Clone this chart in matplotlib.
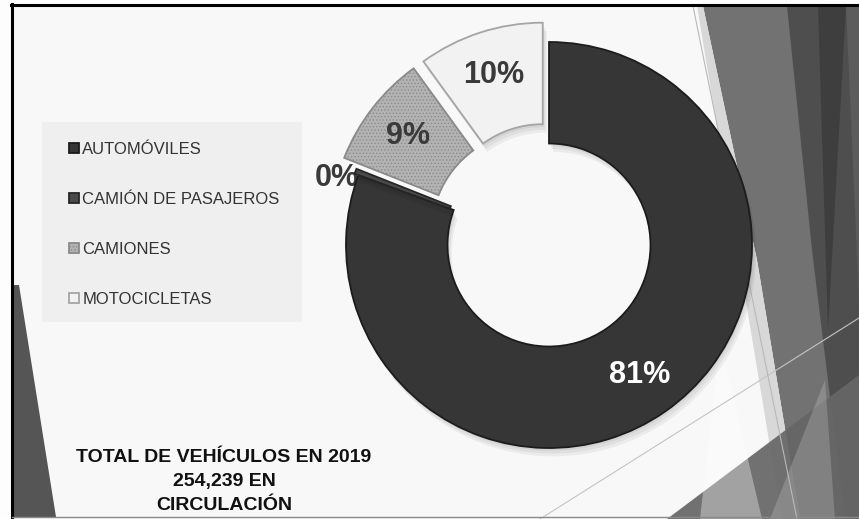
import matplotlib.pyplot as plt
import matplotlib.patheffects as pe
from matplotlib.patches import Polygon, Rectangle
from matplotlib.lines import Line2D

# datos
categorias = ['AUTOMÓVILES', 'CAMIÓN DE PASAJEROS', 'CAMIONES', 'MOTOCICLETAS']
porcentajes = [80.6, 0.4, 9.0, 10.0]
titulo = ['TOTAL DE VEHÍCULOS EN 2019', '254,239 EN', 'CIRCULACIÓN']

colores = ['#363636', '#4a4a4a', '#b3b3b3', '#f2f2f2']
bordes = ['#1c1c1c', '#262626', '#8a8a8a', '#a5a5a5']
separacion = [0, 0.02, 0.1, 0.1]

W, H = 859, 519


def fp(x, y):
    # pixel (y desde arriba) a fraccion de figura
    return (x / W, 1 - y / H)


def poligono(puntos, color, alpha=1.0):
    fig.add_artist(Polygon([fp(x, y) for x, y in puntos], closed=True,
                           transform=fig.transFigure, facecolor=color,
                           edgecolor='none', alpha=alpha, zorder=-5))


def linea(p1, p2, color, lw, z=-4):
    fig.add_artist(Line2D(*zip(fp(*p1), fp(*p2)), transform=fig.transFigure,
                          color=color, lw=lw, zorder=z))


plt.rcParams['hatch.linewidth'] = 0.6
fig = plt.figure(figsize=(W / 100, H / 100), dpi=100, facecolor='#fdfdfd')

# fondo de la diapositiva
fig.add_artist(Rectangle(fp(13, 517), (W - 13) / W, 511 / H, transform=fig.transFigure,
                         facecolor='#f8f8f8', edgecolor='none', zorder=-10))

# decoracion del tema (lado derecho)
poligono([(703, 6), (859, 6), (859, 519), (800, 519), (757, 260)], '#727272')
poligono([(697, 6), (703, 6), (757, 260), (800, 519), (782, 519)], '#d8d8d8')
poligono([(787, 6), (859, 6), (859, 519), (845, 519), (812, 250)], '#4e4e4e')
poligono([(818, 6), (846, 6), (828, 330)], '#3e3e3e')
poligono([(846, 6), (859, 6), (859, 300)], '#5c5c5c')
poligono([(667, 519), (859, 375), (859, 519)], '#666666', 0.92)
poligono([(700, 519), (720, 340), (762, 519)], '#ffffff', 0.35)
poligono([(770, 519), (825, 380), (835, 519)], '#ffffff', 0.18)
poligono([(14, 285), (19, 285), (56, 517), (14, 517)], '#555555')
linea((540, 519), (859, 318), '#c4c4c4', 0.8)
linea((693, 6), (797, 519), '#b8b8b8', 0.8)

# marco
linea((11, 5), (859, 5), 'black', 2.2, 2)
linea((12, 4), (12, 519), 'black', 2.2, 2)
linea((12, 517), (859, 517), '#8a8a8a', 1, 2)

# caja gris de la leyenda
fig.add_artist(Rectangle(fp(42, 322), 260 / W, 200 / H, transform=fig.transFigure,
                         facecolor='#efefef', edgecolor='none', zorder=-3))

# grafico de dona, centro en (549, 245) px, radio 203 px
R = 203
L = 1.3
ax = fig.add_axes([(549 - L * R) / W, (H - 245 - L * R) / H, 2 * L * R / W, 2 * L * R / H])
wedges, textos, pcts = ax.pie(porcentajes, colors=colores, explode=separacion,
                              startangle=90, counterclock=False,
                              autopct='%.0f%%', pctdistance=0.78,
                              wedgeprops=dict(width=0.5, linewidth=1.3),
                              textprops=dict(fontsize=22, fontweight='bold',
                                             color='#3a3a3a', family='Liberation Sans'))
for w, b in zip(wedges, bordes):
    w.set_edgecolor(b)
wedges[2].set_hatch('.....')
ax.set_xlim(-L, L)
ax.set_ylim(-L, L)

pcts[0].set_color('white')
pcts[1].set_position((-1.045, 0.33))
pcts[1].set_zorder(0.5)

# leyenda
fig.legend(wedges, categorias, loc='upper left', bbox_to_anchor=fp(69, 142),
           frameon=False, prop={'family': 'Liberation Sans', 'size': 12},
           handlelength=0.6, handleheight=0.6, handletextpad=0.2,
           labelspacing=2.1, borderpad=0, borderaxespad=0, labelcolor='#333333')

# sombra suave de la dona (despues de la leyenda para no copiarla)
sombra = [pe.SimplePatchShadow(offset=(d, -2 * d), shadow_rgbFace='black', alpha=0.05)
          for d in (3, 2, 1)]
for i in (0, 1, 3):
    wedges[i].set_path_effects(sombra + [pe.Normal()])

# texto inferior
for texto, yb in zip(titulo, [462, 486, 510]):
    fig.text(*fp(224, yb), texto, ha='center', va='baseline', fontsize=14,
             fontweight='bold', family='Liberation Sans', color='#111111')

fig.savefig('out.png', dpi=100, facecolor=fig.get_facecolor())
